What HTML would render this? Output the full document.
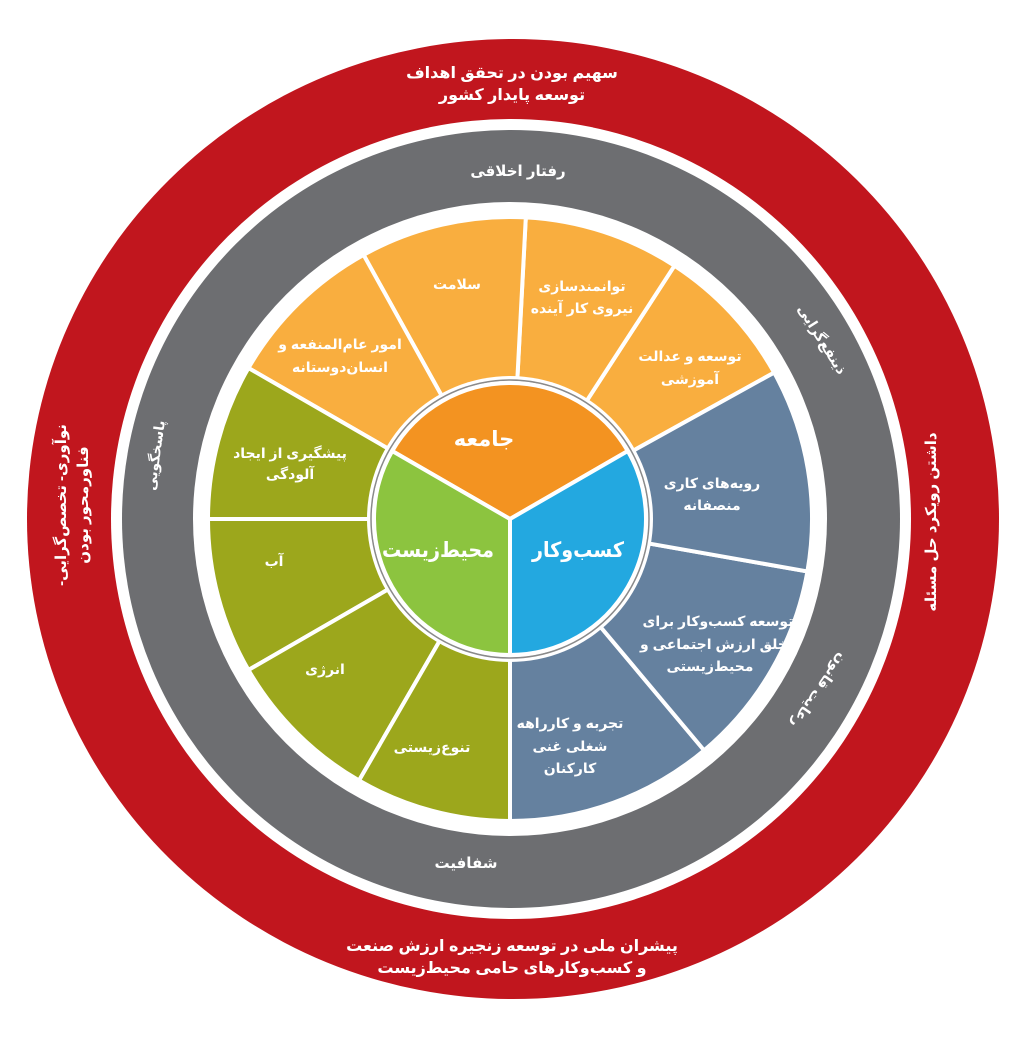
<!DOCTYPE html>
<html><head><meta charset="utf-8">
<style>
html,body{margin:0;padding:0;background:#fff;}
svg{display:block;}
text{font-family:"Liberation Sans","Noto Sans CJK SC","DejaVu Sans",sans-serif;fill:#fff;font-weight:bold;text-anchor:middle;direction:rtl;}
</style></head>
<body>
<svg id="s" width="1024" height="1058" viewBox="0 0 1024 1058" xmlns="http://www.w3.org/2000/svg">
<ellipse cx="513" cy="519" rx="486" ry="480" fill="#C1161E"/>
<circle cx="511" cy="519" r="400" fill="#fff"/>
<circle cx="511" cy="519" r="389" fill="#6D6E71"/>
<circle cx="510" cy="519" r="317" fill="#fff"/>
<g id="segs"></g>
<circle cx="510" cy="519" r="143" fill="#fff"/>
<circle cx="510" cy="519" r="139" fill="none" stroke="#8a8a8a" stroke-width="1.5"/>
<g id="inner"></g>

<g font-size="16">
<text x="512" y="78">سهیم بودن در تحقق اهداف</text>
<text x="512" y="100">توسعه پایدار کشور</text>
<text x="518" y="176" font-size="15">رفتار اخلاقی</text>
<text x="466" y="868" font-size="15">شفافیت</text>
<text x="512" y="951">پیشران ملی در توسعه زنجیره ارزش صنعت</text>
<text x="512" y="973">و کسب‌وکارهای حامی محیط‌زیست</text>
<text transform="translate(818,342) rotate(58)" font-size="14">ذینفع‌گرایی</text>
<text transform="translate(815,688) rotate(125)" font-size="14">رعایت قانون</text>
<text transform="translate(160,456) rotate(-82)" font-size="14">پاسخگویی</text>
<text transform="translate(66,505) rotate(-90)" font-size="15">نوآوری- تخصص‌گرایی-</text>
<text transform="translate(88,505) rotate(-90)" font-size="15">فناورمحور بودن</text>
<text transform="translate(936,522) rotate(-90)" font-size="15">داشتن رویکرد حل مسئله</text>
</g>

<g font-size="14">
<text x="457" y="289">سلامت</text>
<text x="582" y="291">توانمندسازی</text>
<text x="582" y="313">نیروی کار آینده</text>
<text x="340" y="349">امور عام‌المنفعه و</text>
<text x="340" y="372">انسان‌دوستانه</text>
<text x="690" y="361">توسعه و عدالت</text>
<text x="690" y="384">آموزشی</text>
<text x="290" y="458">پیشگیری از ایجاد</text>
<text x="290" y="479">آلودگی</text>
<text x="274" y="566">آب</text>
<text x="325" y="674">انرژی</text>
<text x="432" y="752">تنوع‌زیستی</text>
<text x="712" y="488">رویه‌های کاری</text>
<text x="712" y="510">منصفانه</text>
<text x="718" y="626">توسعه کسب‌وکار برای</text>
<text x="714" y="649">خلق ارزش اجتماعی و</text>
<text x="710" y="671">محیط‌زیستی</text>
<text x="570" y="728">تجربه و کارراهه</text>
<text x="570" y="751">شغلی غنی</text>
<text x="570" y="773">کارکنان</text>
</g>
<text x="484" y="446" font-size="21">جامعه</text>
<text x="438" y="557" font-size="21" textLength="112" lengthAdjust="spacingAndGlyphs">محیط‌زیست</text>
<text x="578" y="557" font-size="21" textLength="92" lengthAdjust="spacingAndGlyphs">کسب‌وکار</text>
</svg>
<script>
(function(){
var cx=510,cy=519;
function P(r,a){a=a*Math.PI/180;return (cx+r*Math.cos(a)).toFixed(2)+","+(cy-r*Math.sin(a)).toFixed(2);}
function ann(r1,r2,a1,a2){var lg=(a2-a1)>180?1:0;
return "M"+P(r2,a1)+"A"+r2+","+r2+" 0 "+lg+" 0 "+P(r2,a2)+"L"+P(r1,a2)+"A"+r1+","+r1+" 0 "+lg+" 1 "+P(r1,a1)+"Z";}
function sec(r,a1,a2){var lg=(a2-a1)>180?1:0;return "M"+cx+","+cy+"L"+P(r,a1)+"A"+r+","+r+" 0 "+lg+" 0 "+P(r,a2)+"Z";}
var g=document.getElementById("segs"),h="";
var sets=[[[29,57,87,119,150],"#F9AE3F"],[[-90,-50,-10,29],"#65819F"],[[150,180,210,240,270],"#9CA71C"]];
sets.forEach(function(s){var a=s[0];for(var i=0;i<a.length-1;i++){h+='<path d="'+ann(140,302,a[i],a[i+1])+'" fill="'+s[1]+'" stroke="#fff" stroke-width="4"/>';}});
g.innerHTML=h;
var gi=document.getElementById("inner");
gi.innerHTML='<path d="'+sec(136,30,150)+'" fill="#F39321" stroke="#fff" stroke-width="4"/>'+
'<path d="'+sec(136,-90,30)+'" fill="#23A8E0" stroke="#fff" stroke-width="4"/>'+
'<path d="'+sec(136,150,270)+'" fill="#8CC43F" stroke="#fff" stroke-width="4"/>';
})();
</script>
</body></html>
